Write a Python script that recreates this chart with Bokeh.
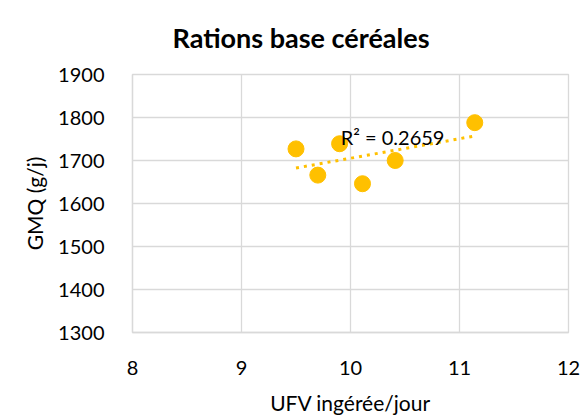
import numpy as np
from bokeh.plotting import figure
from bokeh.models import Label, Range1d, FixedTicker
from bokeh.embed import file_html
from bokeh.resources import INLINE

ufv = [9.50, 9.70, 9.90, 10.11, 10.41, 11.14]
gmq = [1727, 1666, 1739, 1646, 1700, 1788]
title_text = "Rations base céréales"
r2_text = "R² = 0.2659"
x_ticks = [8, 9, 10, 11, 12]
y_ticks = [1300, 1400, 1500, 1600, 1700, 1800, 1900]

FONT = "Lato"
YEL = "#FFC000"
GRID = "#D9D9D9"

p = figure(width=587, height=417, output_backend="svg", toolbar_location=None,
           x_range=Range1d(8, 12), y_range=Range1d(1300, 1900),
           min_border_left=132, min_border_right=19, min_border_top=74, min_border_bottom=79)

p.title.text = title_text
p.title.text_font = FONT
p.title.text_font_size = "27px"
p.title.text_font_style = "bold"
p.title.text_color = "#000000"
p.title.align = "left"
p.title.offset = 40
p.title.vertical_align = "top"
p.title.standoff = 38

p.outline_line_color = GRID
p.outline_line_width = 1.3

for ax in (p.xaxis[0], p.yaxis[0]):
    ax.axis_line_color = GRID
    ax.axis_line_width = 1.3
    ax.major_tick_line_color = None
    ax.minor_tick_line_color = None
    ax.major_label_text_font = FONT
    ax.major_label_text_font_size = "20px"
    ax.major_label_text_color = "#000000"
    ax.axis_label_text_font = FONT
    ax.axis_label_text_font_size = "21px"
    ax.axis_label_text_font_style = "normal"
    ax.axis_label_text_color = "#000000"

p.xaxis.ticker = FixedTicker(ticks=x_ticks)
p.yaxis.ticker = FixedTicker(ticks=y_ticks)
p.xaxis.major_label_standoff = 22
p.yaxis.major_label_standoff = 22
p.xaxis.axis_label = "UFV ingérée/jour"
p.yaxis.axis_label = "GMQ (g/j)"
p.xaxis.axis_label_standoff = 12
p.yaxis.axis_label_standoff = 8

p.grid.grid_line_color = GRID
p.grid.grid_line_width = 1.3

# linear trendline
slope, intercept = np.polyfit(ufv, gmq, 1)
tx = [min(ufv), max(ufv)]
ty = [slope * v + intercept for v in tx]
p.line(tx, ty, line_color=YEL, line_width=3, line_dash="3 5")

p.scatter(ufv, gmq, size=16, fill_color=YEL, line_color=YEL)

p.add_layout(Label(x=9.91, y=1755, text=r2_text, text_font=FONT, text_font_size="20px",
                   text_baseline="middle", text_color="#000000"))

open("out.html", "w").write(file_html(p, INLINE))
